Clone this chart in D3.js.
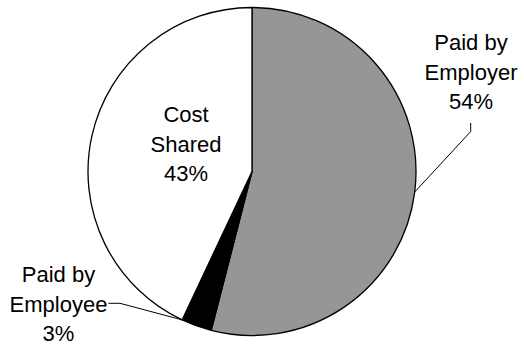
<!DOCTYPE html>
<html>
<head>
<meta charset="utf-8">
<script src="https://cdn.jsdelivr.net/npm/d3@7"></script>
<style>
  html, body { margin: 0; padding: 0; background: #fff; }
  svg { display: block; }
  text { font-family: "Liberation Sans", Arial, sans-serif; font-size: 22px; fill: #000; }
</style>
</head>
<body>
<svg id="chart" width="524" height="347"></svg>
<script>
// ---- data ----
const categories = ["Paid by Employer", "Paid by Employee", "Cost Shared"];
const values = [54, 3, 43];
const labelLines = [["Paid by", "Employer", "54%"], ["Paid by", "Employee", "3%"], ["Cost", "Shared", "43%"]];
const colors = ["#969696", "#000000", "#ffffff"];

// ---- layout ----
const W = 524, H = 347;
const cx = 252, cy = 171.5, R = 164;
const lineH = 29.5;
// label anchor (center x, first baseline y) and leader geometry
const labelLayout = [
  { x: 471, y: 50, leader: { from: [470.7, 123], elbow: [470.7, 131.5], angle: "mid" } },
  { x: 58.5, y: 282, leader: { from: [108.5, 303.3], elbow: [120, 303.3], angle: "end" } },
  { x: 186, y: 122, leader: null }
];

const svg = d3.select("#chart");
const g = svg.append("g").attr("transform", `translate(${cx},${cy})`);

const pie = d3.pie().sort(null).value(d => d)(values);
const arc = d3.arc().innerRadius(0).outerRadius(R);

g.selectAll("path.slice")
  .data(pie)
  .join("path")
  .attr("class", "slice")
  .attr("d", arc)
  .attr("fill", (d, i) => colors[i])
  .attr("stroke", "#000")
  .attr("stroke-width", 1.3)
  .attr("stroke-linejoin", "round");

// leader lines
pie.forEach((d, i) => {
  const L = labelLayout[i].leader;
  if (!L) return;
  const a = L.angle === "mid" ? (d.startAngle + d.endAngle) / 2 : d.endAngle;
  const px = cx + R * Math.sin(a), py = cy - R * Math.cos(a);
  svg.append("polyline")
    .attr("points", [L.from, L.elbow, [px, py]].map(p => p.join(",")).join(" "))
    .attr("fill", "none")
    .attr("stroke", "#000")
    .attr("stroke-width", 1);
});

// labels
labelLines.forEach((lines, i) => {
  const t = svg.append("text")
    .attr("text-anchor", "middle")
    .attr("x", labelLayout[i].x)
    .attr("y", labelLayout[i].y);
  lines.forEach((ln, j) => {
    t.append("tspan")
      .attr("x", labelLayout[i].x)
      .attr("dy", j === 0 ? 0 : lineH)
      .text(ln);
  });
});
</script>
</body>
</html>
